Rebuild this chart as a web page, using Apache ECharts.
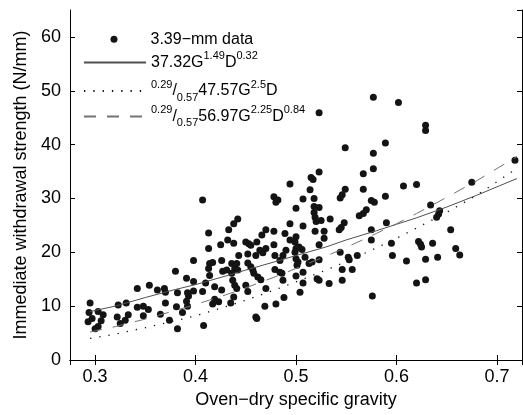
<!DOCTYPE html>
<html>
<head>
<meta charset="utf-8">
<script src="https://cdn.jsdelivr.net/npm/echarts@6/dist/echarts.min.js"></script>
<style>
html,body{margin:0;padding:0;background:#fff;}
#chart{width:523px;height:415px;}
</style>
</head>
<body>
<div id="chart"></div>
<script>
// ---- measured specimens (oven-dry specific gravity, withdrawal strength N/mm) ----
const gravity = [
0.295,0.294,0.293,0.297,0.303,0.308,0.306,0.303,0.300,0.323,
0.322,0.325,0.330,0.333,0.331,0.342,0.348,0.353,0.348,0.365,
0.370,0.374,0.381,0.387,0.392,0.382,0.408,0.417,0.423,0.435,
0.460,0.461,0.469,0.480,0.342,0.354,0.362,0.369,0.370,0.382,
0.392,0.393,0.391,0.380,0.391,0.398,0.410,0.419,0.426,0.398,
0.407,0.419,0.398,0.414,0.417,0.426,0.413,0.414,0.427,0.413,
0.433,0.432,0.413,0.425,0.407,0.480,0.500,0.518,0.523,0.518,
0.519,0.520,0.525,0.534,0.563,0.567,0.570,0.575,0.578,0.442,
0.438,0.470,0.478,0.494,0.507,0.489,0.500,0.494,0.499,0.519,
0.528,0.528,0.548,0.545,0.543,0.575,0.575,0.438,0.450,0.453,
0.455,0.461,0.466,0.478,0.523,0.452,0.443,0.460,0.464,0.467,
0.470,0.479,0.484,0.487,0.490,0.499,0.500,0.503,0.506,0.500,
0.502,0.501,0.509,0.513,0.516,0.523,0.544,0.552,0.553,0.561,
0.546,0.556,0.546,0.533,0.521,0.523,0.507,0.507,0.500,0.504,
0.488,0.487,0.486,0.484,0.479,0.470,0.465,0.462,0.458,0.457,
0.455,0.452,0.436,0.441,0.439,0.442,0.436,0.437,0.439,0.441,
0.431,0.450,0.452,0.438,0.576,0.577,0.523,0.549,0.577,0.577,
0.567,0.523,0.515,0.517,0.494,0.514,0.567,0.549,0.546,0.544,
0.518,0.507,0.478,0.482,0.602,0.629,0.629,0.589,0.607,0.620,
0.675,0.718,0.589,0.634,0.643,0.642,0.640,0.590,0.654,0.595,
0.622,0.624,0.625,0.636,0.659,0.663,0.596,0.610,0.629,0.641,
0.620,0.629
];
const strength = [
10.6,8.8,7.1,7.7,9.0,8.4,7.3,6.2,5.8,10.2,
8.0,6.8,7.4,8.4,10.6,9.8,10.0,9.4,8.2,8.5,
10.6,7.4,9.9,8.8,10.0,5.8,6.4,10.4,10.8,10.6,
8.0,7.7,10.0,10.4,13.3,13.9,13.0,13.3,12.6,12.5,
12.5,11.9,10.9,16.5,15.2,14.6,14.3,13.6,13.0,12.8,
12.7,11.3,18.5,17.9,18.1,18.5,17.0,15.7,16.5,23.6,
24.2,22.3,20.7,21.4,29.7,29.3,28.2,28.5,28.3,27.4,
26.5,25.7,25.9,26.2,26.8,27.2,27.9,29.6,29.3,26.2,
25.3,24.2,23.9,25.3,24.9,23.5,22.9,22.3,21.9,23.9,
23.9,22.6,25.5,24.6,24.2,24.2,22.3,21.7,21.9,21.6,
21.3,21.9,23.2,21.4,21.4,19.7,19.4,19.4,20.4,19.9,
20.7,19.4,18.5,19.4,20.4,20.0,20.7,21.0,20.5,18.8,
18.2,17.6,19.1,17.9,18.2,18.6,20.0,19.1,18.6,19.4,
16.8,16.8,14.8,14.2,15.1,14.8,16.3,14.3,15.6,12.6,
11.6,14.8,16.1,16.3,16.8,13.3,14.9,15.4,16.1,16.7,
17.3,18.0,17.9,17.9,17.0,16.7,16.1,14.8,13.9,13.3,
16.7,13.9,12.7,11.7,11.9,48.8,45.9,39.4,38.4,35.5,
34.6,34.9,33.9,33.5,32.7,31.6,31.7,31.7,30.7,30.1,
30.0,29.9,30.3,29.7,47.8,43.6,42.6,40.3,32.3,32.6,
33.0,37.1,30.4,28.8,27.7,27.1,26.5,25.5,24.2,21.7,
22.0,21.5,21.0,21.7,20.7,19.5,19.4,18.4,18.7,19.1,
14.3,14.9
];

// ---- fitted model curves ----
const fitG      = [0.295,0.32,0.35,0.38,0.40,0.43,0.45,0.48,0.50,0.53,0.55,0.58,0.60,0.62,0.65,0.68,0.72];
const fitSolid  = [9.0,10.0,11.6,13.1,14.0,15.6,16.7,18.3,19.4,21.0,22.3,24.0,25.2,26.4,28.4,30.6,33.7];
const fitDotted = [4.0,4.8,6.0,7.3,8.2,9.9,11.1,13.1,14.5,16.7,18.3,20.8,22.6,24.5,27.4,30.6,35.6];
const fitDashed = [5.2,6.2,7.6,9.2,10.3,12.1,13.4,15.5,17.0,19.3,20.9,23.5,25.3,27.2,30.2,33.3,37.8];

const seriesNames = ['3.39−mm data', '37.32G^1.49D^0.32', '0.29/0.57 47.57G^2.5D', '0.29/0.57 56.97G^2.25D^0.84'];
const legendRich = {
  '3.39−mm data': '{n0|3.39−mm data}',
  '37.32G^1.49D^0.32': '{n|37.32G}{sup|1.49}{n|D}{sup|0.32}',
  '0.29/0.57 47.57G^2.5D': '{sup|0.29}{n|/}{sub|0.57}{n|47.57G}{sup|2.5}{n|D}',
  '0.29/0.57 56.97G^2.25D^0.84': '{sup|0.29}{n|/}{sub|0.57}{n|56.97G}{sup|2.25}{n|D}{sup|0.84}'
};

const FONT = 'Liberation Sans, Arial, Helvetica, sans-serif';
const pairs = (xs, ys) => xs.map((x, i) => [x, ys[i]]);

const chart = echarts.init(document.getElementById('chart'), null, {renderer: 'canvas'});

const rich = {
  n0:  {fontSize: 16, lineHeight: 24, fontFamily: FONT, color: '#000', padding: [0, 0, 0, 28]},
  n:   {fontSize: 16, lineHeight: 24, fontFamily: FONT, color: '#000'},
  sup: {fontSize: 11, lineHeight: 12, verticalAlign: 'top', fontFamily: FONT, color: '#000'},
  sub: {fontSize: 11, lineHeight: 12, verticalAlign: 'bottom', fontFamily: FONT, color: '#000'}
};
function lineLegend(name, top) {
  return {
    data: [name], left: 83, top: top, padding: 0,
    orient: 'vertical', itemWidth: 62, itemHeight: 2, selectedMode: false,
    itemStyle: {opacity: 0},
    formatter: n => legendRich[n],
    textStyle: {rich: rich, fontFamily: FONT, fontSize: 16, color: '#000'}
  };
}

const axisLineStyle = {lineStyle: {color: '#000', width: 1}};
const tickStyle = {inside: true, length: 5, lineStyle: {color: '#000', width: 1}};

chart.setOption({
  animation: false,
  backgroundColor: '#fff',
  grid: {left: 70, right: 1, top: 10, bottom: 55, containLabel: false},
  legend: [
    {
      data: [seriesNames[0]], left: 110.5, top: 31.3, padding: 0,
      orient: 'vertical', itemWidth: 7, itemHeight: 7, selectedMode: false, icon: 'circle',
      formatter: n => legendRich[n],
      textStyle: {rich: rich, fontFamily: FONT, fontSize: 16, color: '#000'}
    },
    lineLegend(seriesNames[1], 50.5),
    lineLegend(seriesNames[2], 79),
    lineLegend(seriesNames[3], 104.5)
  ],
  xAxis: [
    {
      type: 'value', min: 0.275, max: 0.725, splitNumber: 5, position: 'bottom',
      axisLine: axisLineStyle, axisTick: tickStyle, splitLine: {show: false},
      axisLabel: {showMinLabel: false, showMaxLabel: false, color: '#000', fontSize: 18, fontFamily: FONT, margin: 8,
        formatter: v => (Math.round(v * 10) / 10).toFixed(1)},
      name: 'Oven−dry specific gravity', nameLocation: 'middle', nameGap: 31,
      nameTextStyle: {color: '#000', fontSize: 18, fontFamily: FONT}
    },
    {
      type: 'value', min: 0.275, max: 0.725, splitNumber: 5, position: 'top',
      axisLine: axisLineStyle, axisTick: tickStyle, splitLine: {show: false},
      axisLabel: {show: false}
    }
  ],
  yAxis: [
    {
      type: 'value', min: 0, max: 65, interval: 10, position: 'left',
      axisLine: axisLineStyle, axisTick: tickStyle, splitLine: {show: false},
      axisLabel: {showMaxLabel: false, color: '#000', fontSize: 18, fontFamily: FONT, margin: 9},
      name: 'Immediate withdrawal strength (N/mm)', nameLocation: 'middle', nameGap: 39,
      nameTextStyle: {color: '#000', fontSize: 18, fontFamily: FONT}
    },
    {
      type: 'value', min: 0, max: 65, interval: 10, position: 'right',
      axisLine: axisLineStyle, axisTick: tickStyle, splitLine: {show: false},
      axisLabel: {show: false}
    }
  ],
  series: [
    {
      name: seriesNames[0], type: 'scatter', xAxisIndex: 0, yAxisIndex: 0,
      data: pairs(gravity, strength), symbol: 'circle', symbolSize: 7,
      itemStyle: {color: '#141414', opacity: 1}, z: 2
    },
    {
      name: seriesNames[1], type: 'line', data: pairs(fitG, fitSolid), symbol: 'none',
      lineStyle: {color: '#505050', width: 1, type: 'solid'}, itemStyle: {color: '#505050'}, z: 3
    },
    {
      name: seriesNames[2], type: 'line', data: pairs(fitG, fitDotted), symbol: 'none',
      lineStyle: {color: '#111', width: 1.3, type: [1.3, 8]}, itemStyle: {color: '#111'}, z: 3
    },
    {
      name: seriesNames[3], type: 'line', data: pairs(fitG, fitDashed), symbol: 'none',
      lineStyle: {color: '#737373', width: 1, type: [12, 11]}, itemStyle: {color: '#737373'}, z: 3
    }
  ]
});
</script>
</body>
</html>
